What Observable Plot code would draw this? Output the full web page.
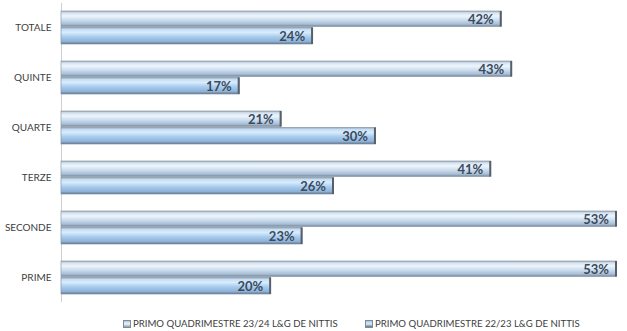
<!DOCTYPE html>
<html>
<head>
<meta charset="utf-8">
<script src="https://cdn.jsdelivr.net/npm/d3@7"></script>
<script src="https://cdn.jsdelivr.net/npm/@observablehq/plot@0.6"></script>
<style>
  html, body { margin: 0; padding: 0; background: #fff; }
  #wrap { width: 627px; height: 331px; position: relative; overflow: hidden; }
  #legend { position: absolute; left: 0; top: 313px; width: 627px; height: 18px;
    font-family: Lato, "Open Sans", sans-serif; font-size: 9.6px; color: #404040; }
  .item { position: absolute; top: 5px; display: flex; align-items: center; white-space: nowrap; }
  .sw { width: 6px; height: 6px; margin-right: 2px; border: 0.5px solid #7d8a98; }
</style>
</head>
<body>
<svg width="0" height="0" style="position:absolute">
  <defs>
    <linearGradient id="gTop" x1="0" y1="0" x2="0" y2="1">
      <stop offset="0" stop-color="#9aa8b6"/>
      <stop offset="0.12" stop-color="#d4e2f0"/>
      <stop offset="0.32" stop-color="#eef5fc"/>
      <stop offset="0.6" stop-color="#c8dbee"/>
      <stop offset="0.85" stop-color="#a8bdd3"/>
      <stop offset="1" stop-color="#74859a"/>
    </linearGradient>
    <linearGradient id="gBot" x1="0" y1="0" x2="0" y2="1">
      <stop offset="0" stop-color="#93a8bd"/>
      <stop offset="0.12" stop-color="#c6def4"/>
      <stop offset="0.3" stop-color="#d9ecfb"/>
      <stop offset="0.55" stop-color="#a9cdef"/>
      <stop offset="0.85" stop-color="#8eb1d5"/>
      <stop offset="1" stop-color="#5f7389"/>
    </linearGradient>
  </defs>
</svg>
<div id="wrap">
  <div id="chart"></div>
  <div id="legend"></div>
</div>
<script>
const categories = ["TOTALE", "QUINTE", "QUARTE", "TERZE", "SECONDE", "PRIME"];
const series2324 = [42, 43, 21, 41, 53, 53];
const series2223 = [24, 17, 30, 26, 23, 20];
const seriesNames = ["PRIMO QUADRIMESTRE 23/24 L&G DE NITTIS", "PRIMO QUADRIMESTRE 22/23 L&G DE NITTIS"];

const dTop = categories.map((c, i) => ({cat: c, v: series2324[i]}));
const dBot = categories.map((c, i) => ({cat: c, v: series2223[i]}));

const labelStyle = {
  fontFamily: "Lato, 'Open Sans', sans-serif",
  fontWeight: "bold",
  fontSize: 13,
  fill: "#3b4a5c",
  textAnchor: "end",
  dx: -8
};

const chart = Plot.plot({
  width: 627,
  height: 310,
  marginLeft: 61,
  marginRight: 0,
  marginTop: 3,
  marginBottom: 8,
  style: {fontFamily: "Lato, 'Open Sans', sans-serif", background: "#fff"},
  x: {domain: [0, 54], axis: null},
  y: {domain: categories, paddingInner: 0.34, paddingOuter: 0.12, label: null,
      tickSize: 0, tickPadding: 10, fontSize: 10},
  marks: [
    Plot.ruleX([0], {stroke: "#d0d0d0", strokeWidth: 1}),
    Plot.barX(dTop, {x: "v", y: "cat", insetBottom: 17.5, fill: "url(#gTop)", stroke: "#8f9baa", strokeWidth: 0.7}),
    Plot.barX(dBot, {x: "v", y: "cat", insetTop: 16.5, fill: "url(#gBot)", stroke: "#8194a8", strokeWidth: 0.7}),
    Plot.tickX(dTop, {x: "v", y: "cat", insetBottom: 17.5, dx: -1, stroke: "#55606c", strokeWidth: 2}),
    Plot.tickX(dBot, {x: "v", y: "cat", insetTop: 16.5, dx: -1, stroke: "#55606c", strokeWidth: 2}),
    Plot.text(dTop, {x: "v", y: "cat", text: d => d.v + "%", dy: -8.5, ...labelStyle}),
    Plot.text(dBot, {x: "v", y: "cat", text: d => d.v + "%", dy: 8.5, ...labelStyle})
  ]
});
chart.querySelectorAll("g[aria-label='y-axis tick label'] text, g[aria-label='y-axis tick label']").forEach(el => {
  el.setAttribute("fill", "#404040");
});
document.getElementById("chart").appendChild(chart);

const legend = document.getElementById("legend");
const lefts = [123, 365];
const grads = ["linear-gradient(#b8c8d8,#eef5fc,#8a9cb0)", "linear-gradient(#a8c6e4,#d9ecfb,#5f7389)"];
seriesNames.forEach((name, i) => {
  const it = document.createElement("div");
  it.className = "item";
  it.style.left = lefts[i] + "px";
  const sw = document.createElement("span");
  sw.className = "sw";
  sw.style.background = grads[i];
  const tx = document.createElement("span");
  tx.textContent = name;
  it.appendChild(sw);
  it.appendChild(tx);
  legend.appendChild(it);
});
</script>
</body>
</html>
